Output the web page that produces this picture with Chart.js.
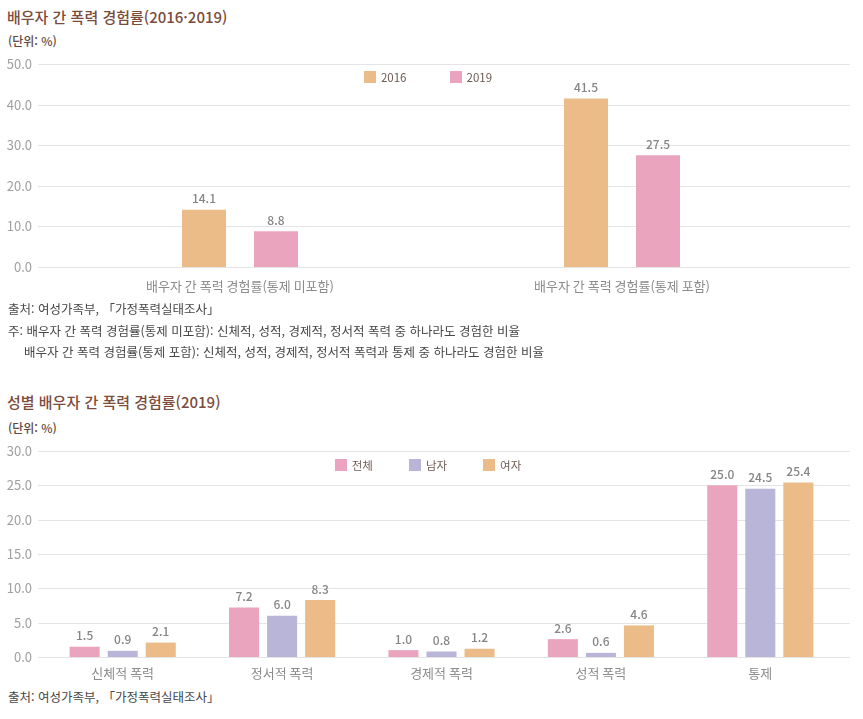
<!DOCTYPE html>
<html lang="ko">
<head>
<meta charset="utf-8">
<script src="https://cdn.jsdelivr.net/npm/chart.js@4.4.1/dist/chart.umd.min.js"></script>
<style>
  body { margin: 0; background: #fff; width: 863px; height: 719px; position: relative; overflow: hidden;
         font-family: "Noto Sans CJK KR", "Noto Sans", sans-serif; }
  .abs { position: absolute; white-space: nowrap; }
  .title { left: 7px; font-size: 15px; line-height: 20px; font-weight: 500; color: #7b4b3b; }
  .unit { left: 8px; font-size: 12px; line-height: 16px; font-weight: 500; color: #5e4a43; }
  .note { left: 8px; font-size: 12.5px; line-height: 21.5px; color: #474747; }
  .legend { left: 0; width: 856px; display: flex; justify-content: center; font-size: 11.5px; line-height: 14px; color: #6d5a55; }
  .legend span.item { display: flex; align-items: center; }
  .legend i { display: inline-block; width: 12px; height: 12px; margin-right: 5px; }
  canvas { position: absolute; left: 0; }
</style>
</head>
<body>

<div class="abs title" style="top:7px">배우자 간 폭력 경험률(2016·2019)</div>
<div class="abs unit" style="top:33px">(단위: %)</div>
<canvas id="chart1" width="863" height="250" style="top:50px"></canvas>
<div class="abs legend" id="legend1" style="top:70px"></div>
<div class="abs note" style="top:298px">
  출처: 여성가족부, 「가정폭력실태조사」<br>
  주: 배우자 간 폭력 경험률(통제 미포함): 신체적, 성적, 경제적, 정서적 폭력 중 하나라도 경험한 비율<br>
  <span style="padding-left:16px">배우자 간 폭력 경험률(통제 포함): 신체적, 성적, 경제적, 정서적 폭력과 통제 중 하나라도 경험한 비율</span>
</div>

<div class="abs title" style="top:392px">성별 배우자 간 폭력 경험률(2019)</div>
<div class="abs unit" style="top:420px">(단위: %)</div>
<canvas id="chart2" width="863" height="250" style="top:436px"></canvas>
<div class="abs legend" id="legend2" style="top:458px"></div>
<div class="abs note" style="top:686px">출처: 여성가족부, 「가정폭력실태조사」</div>

<script>
// 데이터
const years = ['2016', '2019'];
const cats1 = ['배우자 간 폭력 경험률(통제 미포함)', '배우자 간 폭력 경험률(통제 포함)'];
const v2016 = [14.1, 41.5];
const v2019 = [8.8, 27.5];
const ticks1 = [0, 10, 20, 30, 40, 50];

const groups = ['전체', '남자', '여자'];
const cats2 = ['신체적 폭력', '정서적 폭력', '경제적 폭력', '성적 폭력', '통제'];
const vAll = [1.5, 7.2, 1.0, 2.6, 25.0];
const vMen = [0.9, 6.0, 0.8, 0.6, 24.5];
const vWomen = [2.1, 8.3, 1.2, 4.6, 25.4];
const ticks2 = [0, 5, 10, 15, 20, 25, 30];

const ORANGE = '#ebbc88';
const PINK = '#eba4bd';
const PURPLE = '#b8b5d9';
const NUM_FONT = '"Noto Sans CJK KR", sans-serif';

// 그리드선: 차트 영역보다 조금 더 넓게 그림
const gridPlugin = {
  id: 'wideGrid',
  beforeDatasetsDraw(chart, args, opts) {
    const {ctx} = chart;
    const y = chart.scales.y;
    ctx.save();
    ctx.strokeStyle = '#e4e4e4';
    ctx.lineWidth = 1;
    y.ticks.forEach(t => {
      const py = Math.round(y.getPixelForValue(t.value)) + 0.5;
      ctx.beginPath();
      ctx.moveTo(opts.x1, py);
      ctx.lineTo(opts.x2, py);
      ctx.stroke();
    });
    ctx.restore();
  }
};

// 막대 위 값 표시
const valuePlugin = {
  id: 'values',
  afterDatasetsDraw(chart) {
    const {ctx} = chart;
    ctx.save();
    ctx.fillStyle = '#858585';
    ctx.font = '500 12px ' + NUM_FONT;
    ctx.textAlign = 'center';
    ctx.textBaseline = 'middle';
    chart.data.datasets.forEach((ds, i) => {
      chart.getDatasetMeta(i).data.forEach((bar, j) => {
        ctx.fillText(ds.data[j].toFixed(1), bar.x, bar.y - 11);
      });
    });
    ctx.restore();
  }
};

function makeChart(id, labels, datasets, tickList, max, layout, bars) {
  return new Chart(document.getElementById(id), {
    type: 'bar',
    data: { labels: labels, datasets: datasets },
    options: {
      responsive: false,
      animation: false,
      datasets: { bar: { categoryPercentage: bars.cat, barPercentage: bars.bar } },
      layout: { padding: { top: layout.top, right: layout.right, left: 0, bottom: 0 } },
      plugins: {
        legend: { display: false },
        tooltip: { enabled: false },
        wideGrid: { x1: 38, x2: 850 }
      },
      scales: {
        x: {
          grid: { display: false, drawTicks: false },
          border: { display: false },
          ticks: { color: '#8c8c8c', font: { size: 13, family: NUM_FONT }, padding: layout.xPad, maxRotation: 0 },
          afterFit: s => { s.height = layout.xHeight; }
        },
        y: {
          min: 0, max: max,
          grid: { display: false, drawTicks: false },
          border: { display: false },
          afterBuildTicks: s => { s.ticks = tickList.map(v => ({ value: v })); },
          ticks: {
            color: '#a0a0a0', font: { size: 13, family: NUM_FONT }, padding: layout.yPad,
            callback: v => v.toFixed(1)
          },
          // 라벨 여백 때문에 차트 영역이 밀리지 않게
          afterFit: s => { s.width = layout.yWidth; s.paddingTop = 0; s.paddingBottom = 0; }
        }
      }
    },
    plugins: [gridPlugin, valuePlugin]
  });
}

const chart1 = makeChart('chart1', cats1, [
  { label: years[0], data: v2016, backgroundColor: ORANGE },
  { label: years[1], data: v2019, backgroundColor: PINK }
], ticks1, 50, { top: 14, right: 50, xHeight: 33, xPad: 11, yWidth: 49, yPad: 17 }, { cat: 0.377, bar: 0.611 });

const chart2 = makeChart('chart2', cats2, [
  { label: groups[0], data: vAll, backgroundColor: PINK },
  { label: groups[1], data: vMen, backgroundColor: PURPLE },
  { label: groups[2], data: vWomen, backgroundColor: ORANGE }
], ticks2, 30, { top: 15, right: 23, xHeight: 29, xPad: 8, yWidth: 43, yPad: 11 }, { cat: 0.716, bar: 0.79 });

// 범례는 데이터셋에서 만들어 html로 붙임
function buildLegend(chart, elId, gap) {
  const box = document.getElementById(elId);
  box.innerHTML = chart.data.datasets
    .map((ds, i) => `<span class="item" style="margin-left:${i ? gap : 0}px"><i style="background:${ds.backgroundColor}"></i>${ds.label}</span>`)
    .join('');
}
buildLegend(chart1, 'legend1', 43);
buildLegend(chart2, 'legend2', 36);
</script>
</body>
</html>
